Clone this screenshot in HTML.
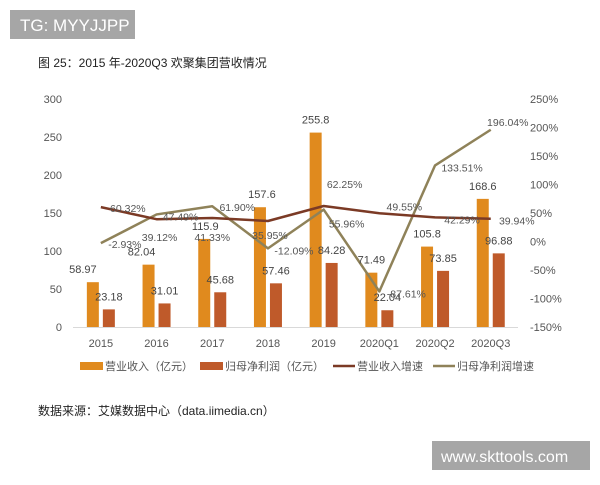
<!DOCTYPE html>
<html><head><meta charset="utf-8"><style>
html,body{margin:0;padding:0;background:#fff;}
body{width:600px;height:480px;overflow:hidden;position:relative;font-family:"Liberation Sans","Noto Sans CJK SC",sans-serif;}
</style></head><body>
<svg id="chart" width="600" height="480" xmlns="http://www.w3.org/2000/svg" font-family="Liberation Sans, Noto Sans CJK SC, sans-serif">
<rect x="10" y="10" width="125" height="29" fill="#a6a6a6"/>
<text x="20" y="31" font-size="17" fill="#fff">TG: MYYJJPP</text>
<text x="38" y="67" font-size="12" fill="#222">图 25：2015 年-2020Q3 欢聚集团营收情况</text>
<g id="axes"></g>
<g id="bars"></g>
<g id="lines"></g>
<g id="labels"></g>
<g id="legend">
<rect x="80" y="362" width="23" height="8" fill="#e08a1e"/>
<text x="105" y="370" font-size="11" fill="#555">营业收入（亿元）</text>
<rect x="200" y="362" width="23" height="8" fill="#bf5a2a"/>
<text x="225" y="370" font-size="11" fill="#555">归母净利润（亿元）</text>
<line x1="333" y1="366" x2="355" y2="366" stroke="#7b3a25" stroke-width="2.5"/>
<text x="357" y="370" font-size="11" fill="#555">营业收入增速</text>
<line x1="433" y1="366" x2="455" y2="366" stroke="#8f8259" stroke-width="2.5"/>
<text x="457" y="370" font-size="11" fill="#555">归母净利润增速</text>
</g>
<text x="38" y="415" font-size="12" fill="#222">数据来源：艾媒数据中心（data.iimedia.cn）</text>
<rect x="432" y="441" width="158" height="29" fill="#a6a6a6"/>
<text x="441" y="462" font-size="16" fill="#fff">www.skttools.com</text>
</svg>
<script>
const categories=["2015","2016","2017","2018","2019","2020Q1","2020Q2","2020Q3"];
const revenue=[58.97,82.04,115.9,157.6,255.8,71.49,105.8,168.6];
const profit=[23.18,31.01,45.68,57.46,84.28,22.04,73.85,96.88];
const revenueGrowth=[60.32,39.12,41.33,35.95,62.25,49.55,42.29,39.94];
const profitGrowth=[-2.93,47.49,61.90,-12.09,55.96,-87.61,133.51,196.04];
const leftTicks=[0,50,100,150,200,250,300];
const rightTicks=[-150,-100,-50,0,50,100,150,200,250];

/* label offsets (styling only) */
const revLabDx=[-18,-15,-7,-6,-8,-8,-8,-8];
const rgDx=[27,3,0,2,21,25,27,26], rgDy=[5,22,23,18,-18,-3,6,6];
const pgDx=[24,24,25,26,23,27,27,17], pgDy=[5,6,5,6,18,6,6,-4];

const NS="http://www.w3.org/2000/svg";
function mk(tag,attrs,parent,txt){const e=document.createElementNS(NS,tag);for(const k in attrs)e.setAttribute(k,attrs[k]);if(txt!==undefined)e.textContent=txt;parent.appendChild(e);return e;}
const x0=73,step=55.7;
const xc=i=>x0+step*(i+0.5);
const yL=v=>327-v*0.76;
const yR=v=>241.5-v*0.57;
const axes=document.getElementById('axes'),bars=document.getElementById('bars'),lines=document.getElementById('lines'),labels=document.getElementById('labels');
let e=mk('line',{x1:73,y1:327.5,x2:518,y2:327.5,stroke:'#d9d9d9','stroke-width':1},axes);


leftTicks.forEach(t=>{
  const el=mk('text',{x:62,y:yL(t)+4,'font-size':11,fill:'#555','text-anchor':'end'},axes,String(t));
  
  
});
rightTicks.forEach(t=>{
  const el=mk('text',{x:530,y:yR(t)+4,'font-size':11,fill:'#555'},axes,t+'%');
  
  
});
categories.forEach((c,i)=>{
  const el=mk('text',{x:xc(i),y:347,'font-size':11,fill:'#555','text-anchor':'middle'},axes,c);
  
  
  const b1=mk('rect',{x:xc(i)-14,y:yL(revenue[i]),width:12,height:yL(0)-yL(revenue[i]),fill:'#e08a1e'},bars);
  
  
  const b2=mk('rect',{x:xc(i)+2,y:yL(profit[i]),width:12,height:yL(0)-yL(profit[i]),fill:'#bf5a2a'},bars);
  
  
  const l1=mk('text',{x:xc(i)+revLabDx[i],y:yL(revenue[i])-9,'font-size':11,fill:'#444','text-anchor':'middle'},labels,String(revenue[i]));
  
  
  const l2=mk('text',{x:xc(i)+8,y:yL(profit[i])-9,'font-size':11,fill:'#444','text-anchor':'middle'},labels,profit[i].toFixed(2));
  
  
});
function curve(vals){return vals.map((v,i)=>(i?'L':'M')+xc(i)+','+yR(v)).join(' ');}
e=mk('path',{d:curve(profitGrowth),fill:'none',stroke:'#8f8259','stroke-width':2.5,'stroke-linejoin':'round'},lines);


e=mk('path',{d:curve(revenueGrowth),fill:'none',stroke:'#7b3a25','stroke-width':2.5,'stroke-linejoin':'round'},lines);


categories.forEach((c,i)=>{
  const a=mk('text',{x:xc(i)+rgDx[i],y:yR(revenueGrowth[i])+rgDy[i],'font-size':10.5,fill:'#555','text-anchor':'middle'},labels,revenueGrowth[i].toFixed(2)+'%');
  
  
  const b=mk('text',{x:xc(i)+pgDx[i],y:yR(profitGrowth[i])+pgDy[i],'font-size':10.5,fill:'#555','text-anchor':'middle'},labels,profitGrowth[i].toFixed(2)+'%');
  
  
});
</script>
</body></html>
